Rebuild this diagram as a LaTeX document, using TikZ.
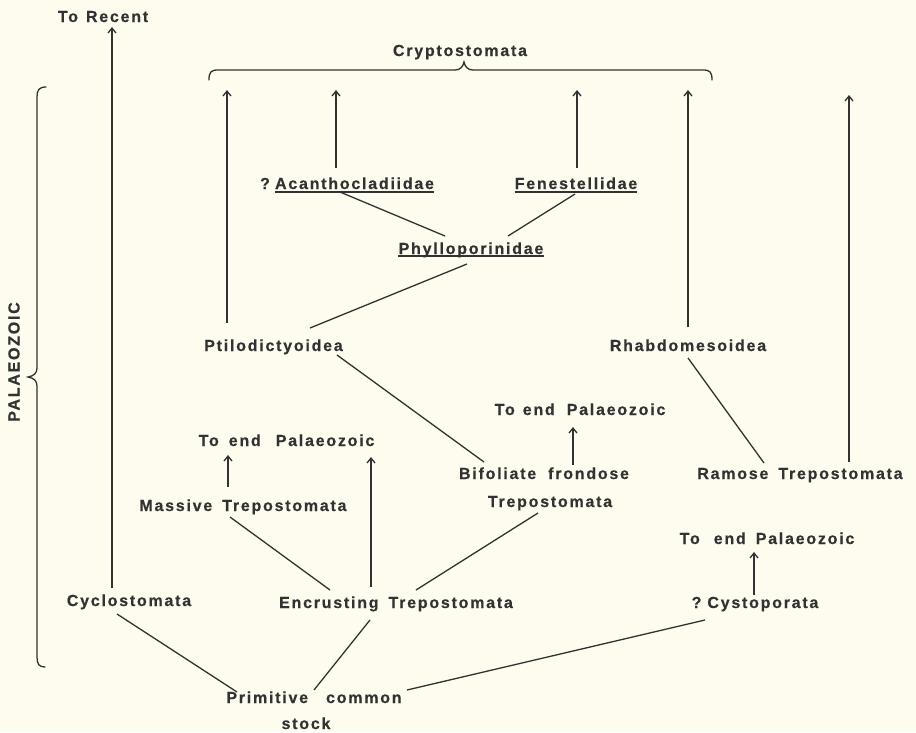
\documentclass[tikz,border=0pt]{standalone}
\usepackage{fontspec}
\setmainfont{Liberation Sans}[LetterSpace=11,FakeBold=0.4]
\usetikzlibrary{arrows.meta,calc}
\definecolor{ink}{RGB}{50,50,50}
\definecolor{paper}{RGB}{253,252,238}
\begin{document}
\begin{tikzpicture}[x=1pt,y=-1pt,
  lab/.style={anchor=base,inner sep=0pt,font=\fontsize{16}{19}\selectfont\bfseries,text=ink},
  conn/.style={draw=ink,line width=1.3pt},
  up/.style={conn,-{Straight Barb[length=5pt,width=8pt,line width=1.3pt]}},
  ul/.style={draw=ink,line width=1.3pt},
  brace/.style={draw=ink,line width=1.3pt,line cap=round}]
\fill[paper] (0,0) rectangle (916,732);
\useasboundingbox (0,0) rectangle (916,732);

% labels
\node[lab] (torecent) at (103,22) {To\hspace{8pt}Recent};
\node[lab] (crypto) at (460,56) {Cryptostomata};
\node[lab] (qm) at (265,189) {?};
\node[lab] (acan) at (354.5,189) {Acanthocladiidae};
\node[lab] (fen) at (576,189) {Fenestellidae};
\node[lab] (phyl) at (471,254) {Phylloporinidae};
\node[lab] (ptilo) at (273.5,351) {Ptilodictyoidea};
\node[lab] (rhab) at (688,351) {Rhabdomesoidea};
\node[lab] (tepA) at (286.5,446) {To\hspace{10pt}end\hspace{15pt}Palaeozoic};
\node[lab] (tepB) at (580,415) {To\hspace{8pt}end\hspace{12pt}Palaeozoic};
\node[lab] (massive) at (243,511) {Massive\hspace{10pt}Trepostomata};
\node[lab] (bif) at (544,479) {Bifoliate\hspace{12pt}frondose};
\node[lab] (bift) at (550,507) {Trepostomata};
\node[lab] (ramose) at (800,479) {Ramose\hspace{10pt}Trepostomata};
\node[lab] (tepC) at (767,544) {To\hspace{14pt}end\hspace{10pt}Palaeozoic};
\node[lab] (cyclo) at (129,606) {Cyclostomata};
\node[lab] (encr) at (396,608) {Encrusting\hspace{10pt}Trepostomata};
\node[lab] (cyst) at (755,608) {?\hspace{6pt}Cystoporata};
\node[lab] (prim) at (314,703) {Primitive\hspace{18pt}common};
\node[lab] (stock) at (306,729) {stock};
\node[lab,rotate=90,anchor=center] (palaeo) at (14,362) {PALAEOZOIC};

% underlines
\draw[ul] ([shift={(0,3)}]acan.base west) -- ([shift={(0,3)}]acan.base east);
\draw[ul] ([shift={(0,3)}]fen.base west) -- ([shift={(0,3)}]fen.base east);
\draw[ul] ([shift={(0,2)}]phyl.base west) -- ([shift={(0,2)}]phyl.base east);

% free arrow ends
\coordinate (tP) at (227,90);
\coordinate (tA) at (336,90);
\coordinate (tF) at (577,90);
\coordinate (tR) at (688,90);
\coordinate (tM) at (849,95);

% arrows
\draw[up] ([shift={(-17,-18)}]cyclo.base) -- ([shift={(9,5)}]torecent.base);
\draw[up] ([shift={(-46.5,-28)}]ptilo.base) -- (tP);
\draw[up] ([shift={(-18.5,-21)}]acan.base) -- (tA);
\draw[up] ([shift={(1,-21)}]fen.base) -- (tF);
\draw[up] ([shift={(0,-24)}]rhab.base) -- (tR);
\draw[up] ([shift={(49,-17)}]ramose.base) -- (tM);
\draw[up] ([shift={(-15,-24)}]massive.base) -- ([shift={(-58.5,9)}]tepA.base);
\draw[up] ([shift={(-25,-21)}]encr.base) -- ([shift={(84.5,11)}]tepA.base);
\draw[up] ([shift={(29,-14)}]bif.base) -- ([shift={(-7,12)}]tepB.base);
\draw[up] ([shift={(-1,-13)}]cyst.base) -- ([shift={(-13,8)}]tepC.base);

% lines
\draw[conn] ([shift={(-14.5,3)}]acan.base) -- ([shift={(-26,-18)}]phyl.base);
\draw[conn] ([shift={(-1,5)}]fen.base) -- ([shift={(37,-18)}]phyl.base);
\draw[conn] ([shift={(-4,10)}]phyl.base) -- ([shift={(36.5,-23)}]ptilo.base);
\draw[conn] ([shift={(63.5,4)}]ptilo.base) -- ([shift={(-60,-17)}]bif.base);
\draw[conn] ([shift={(0,7)}]rhab.base) -- ([shift={(-36,-16)}]ramose.base);
\draw[conn] ([shift={(-13,6)}]massive.base) -- ([shift={(-66,-18)}]encr.base);
\draw[conn] ([shift={(-12,6)}]bift.base) -- ([shift={(20,-18)}]encr.base);
\draw[conn] ([shift={(-12,8)}]cyclo.base) -- ([shift={(-77,-11)}]prim.base);
\draw[conn] ([shift={(-26,12)}]encr.base) -- ([shift={(0,-13)}]prim.base);
\draw[conn] ([shift={(-50,12)}]cyst.base) -- ([shift={(93,-13)}]prim.base);

% top brace (Cryptostomata)
\draw[brace] (209,80) .. controls (209,72) and (211,70) .. (218,70)
  -- (455,70) .. controls (460,70) and (463,67) .. (464,62)
  .. controls (465,67) and (468,70) .. (473,70)
  -- (703,70) .. controls (710,70) and (712,72) .. (712,80);
% left brace (Palaeozoic)
\draw[brace] (46,87) .. controls (39,87) and (37,90) .. (37,97)
  -- (37,368) .. controls (37,373) and (34,376) .. (28,377)
  .. controls (34,378) and (37,381) .. (37,386)
  -- (37,657) .. controls (37,664) and (39,667) .. (45,667);
\end{tikzpicture}
\end{document}
